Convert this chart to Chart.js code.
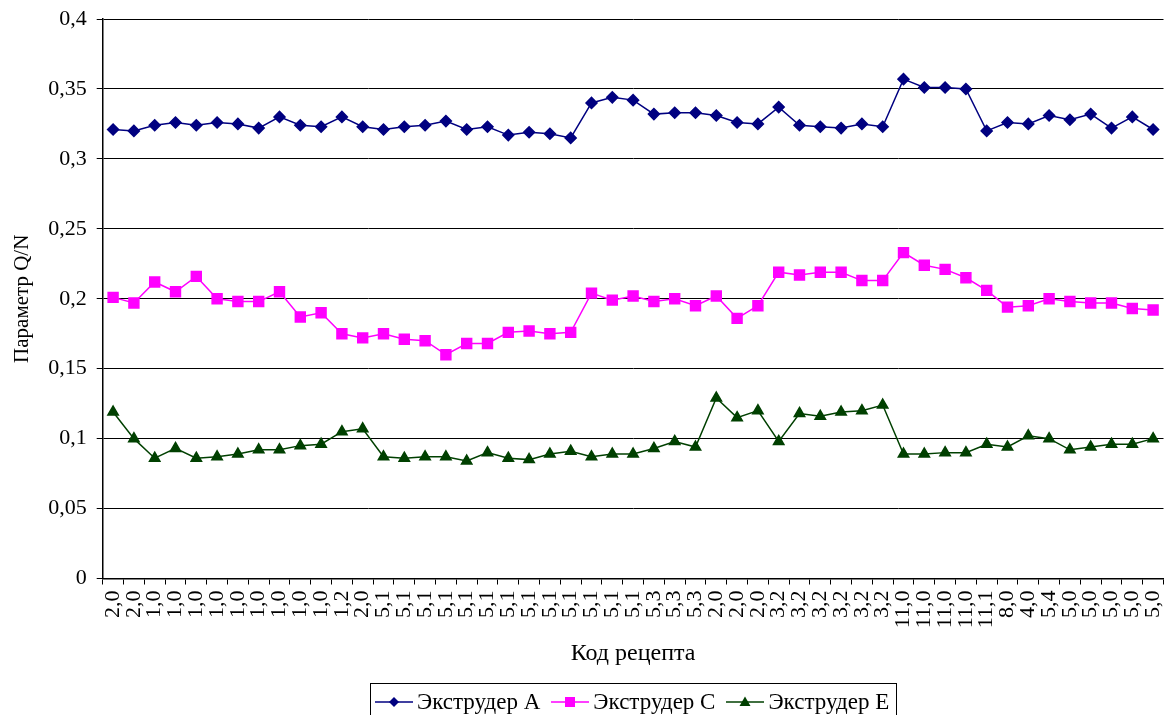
<!DOCTYPE html>
<html>
<head>
<meta charset="utf-8">
<script src="https://cdn.jsdelivr.net/npm/chart.js@4"></script>
<style>
  html, body { margin: 0; padding: 0; background: #fff; overflow: hidden; }
  #wrap { position: relative; width: 1166px; height: 715px; overflow: hidden; }
  #legend {
    position: absolute; left: 370px; top: 683px; width: 527px; height: 38px;
    border: 1px solid #000; box-sizing: border-box;
    display: flex; align-items: center; padding-left: 4px; white-space: nowrap;
    font-family: "Liberation Serif", "Times New Roman", serif; font-size: 23px; color: #000;
  }
  #legend .item { display: flex; align-items: center; margin-right: 11px; flex-shrink: 0; }
  #legend svg { margin-right: 4px; flex-shrink: 0; }
</style>
</head>
<body>
<div id="wrap">
  <!-- a little wider than the page: chart.js keeps some room right of the last rotated label -->
  <canvas id="chart" width="1172" height="715"></canvas>
  <div id="legend"></div>
</div>
<script>
// category codes along the x axis
const recipeCodes = [
  '2,0', '2,0',
  '1,0', '1,0', '1,0', '1,0', '1,0', '1,0', '1,0', '1,0', '1,0',
  '1,2', '2,0',
  '5,1', '5,1', '5,1', '5,1', '5,1', '5,1', '5,1', '5,1', '5,1', '5,1', '5,1', '5,1', '5,1',
  '5,3', '5,3', '5,3',
  '2,0', '2,0', '2,0',
  '3,2', '3,2', '3,2', '3,2', '3,2', '3,2',
  '11,0', '11,0', '11,0', '11,0', '11,1', '8,0', '4,0', '5,4',
  '5,0', '5,0', '5,0', '5,0', '5,0'
];

const seriesNames = ['Экструдер A', 'Экструдер C', 'Экструдер E'];

const extruderA = [
  0.321, 0.320, 0.324, 0.326, 0.324, 0.326, 0.325, 0.322, 0.330, 0.324,
  0.323, 0.330, 0.323, 0.321, 0.323, 0.324, 0.327, 0.321, 0.323, 0.317,
  0.319, 0.318, 0.315, 0.340, 0.344, 0.342, 0.332, 0.333, 0.333, 0.331,
  0.326, 0.325, 0.337, 0.324, 0.323, 0.322, 0.325, 0.323, 0.357, 0.351,
  0.351, 0.350, 0.320, 0.326, 0.325, 0.331, 0.328, 0.332, 0.322, 0.330,
  0.321
];

const extruderC = [
  0.201, 0.197, 0.212, 0.205, 0.216, 0.200, 0.198, 0.198, 0.205, 0.187,
  0.190, 0.175, 0.172, 0.175, 0.171, 0.170, 0.160, 0.168, 0.168, 0.176,
  0.177, 0.175, 0.176, 0.204, 0.199, 0.202, 0.198, 0.200, 0.195, 0.202,
  0.186, 0.195, 0.219, 0.217, 0.219, 0.219, 0.213, 0.213, 0.233, 0.224,
  0.221, 0.215, 0.206, 0.194, 0.195, 0.200, 0.198, 0.197, 0.197, 0.193,
  0.192
];

const extruderE = [
  0.119, 0.100, 0.086, 0.093, 0.086, 0.087, 0.089, 0.092, 0.092, 0.095,
  0.096, 0.105, 0.107, 0.087, 0.086, 0.087, 0.087, 0.084, 0.090, 0.086,
  0.085, 0.089, 0.091, 0.087, 0.089, 0.089, 0.093, 0.098, 0.094, 0.129,
  0.115, 0.120, 0.098, 0.118, 0.116, 0.119, 0.120, 0.124, 0.089, 0.089,
  0.090, 0.090, 0.096, 0.094, 0.102, 0.100, 0.092, 0.094, 0.096, 0.096,
  0.100
];

const yTicks = [0, 0.05, 0.1, 0.15, 0.2, 0.25, 0.3, 0.35, 0.4];

const serif = '"Liberation Serif", "Times New Roman", serif';
const colA = '#000080', colC = '#FF00FF', colE = '#004000';

const fmt = v => String(v).replace('.', ',');

const ctx = document.getElementById('chart');
new Chart(ctx, {
  type: 'line',
  data: {
    labels: recipeCodes,
    datasets: [
      { label: seriesNames[0], data: extruderA, borderColor: colA, backgroundColor: colA,
        borderWidth: 1.5, pointStyle: 'rectRot', pointRadius: 5.5, tension: 0 },
      { label: seriesNames[1], data: extruderC, borderColor: colC, backgroundColor: colC,
        borderWidth: 1.5, pointStyle: 'rect', pointRadius: 7, tension: 0 },
      { label: seriesNames[2], data: extruderE, borderColor: colE, backgroundColor: colE,
        borderWidth: 1.5, pointStyle: 'triangle', pointRadius: 6, tension: 0 }
    ]
  },
  options: {
    responsive: false,
    animation: false,
    layout: { padding: { top: 19, right: 3, bottom: 44, left: 10 } },
    plugins: {
      legend: { display: false },
      tooltip: { enabled: false }
    },
    scales: {
      x: {
        offset: true,
        afterFit: s => { s.paddingLeft = 0; s.paddingRight = 0; },
        grid: { offset: true, drawOnChartArea: false, color: '#000', tickLength: 6, tickColor: '#000' },
        border: { color: '#000', width: 1.5 },
        ticks: {
          autoSkip: false, maxRotation: 90, minRotation: 90, padding: 6,
          color: '#000', font: { family: serif, size: 22 }
        },
        title: { display: true, text: 'Код рецепта', color: '#000',
                 font: { family: serif, size: 24 }, padding: { top: 5, bottom: 3 } }
      },
      y: {
        min: 0, max: 0.4,
        afterBuildTicks: axis => { axis.ticks = yTicks.map(v => ({ value: v })); },
        afterFit: s => { s.paddingTop = 0; s.paddingBottom = 0; },
        grid: { color: '#000', lineWidth: 1, tickLength: 6, tickColor: '#000' },
        border: { color: '#000', width: 1.5 },
        ticks: {
          padding: 10, color: '#000', font: { family: serif, size: 22 },
          callback: v => fmt(v)
        },
        title: { display: true, text: 'Параметр Q/N', color: '#000',
                 font: { family: serif, size: 21 }, padding: { top: 0, bottom: 3 } }
      }
    }
  }
});

// legend in the Excel style: a line segment with the marker in its middle
const markerSvg = {
  rectRot: c => `<polygon points="19,5 24,10 19,15 14,10" fill="${c}"/>`,
  rect: c => `<rect x="14" y="5" width="10" height="10" fill="${c}"/>`,
  triangle: c => `<polygon points="19,4.5 24.5,14 13.5,14" fill="${c}"/>`
};
const legendStyles = [['rectRot', colA], ['rect', colC], ['triangle', colE]];
const legendEl = document.getElementById('legend');
seriesNames.forEach((name, i) => {
  const [shape, c] = legendStyles[i];
  const item = document.createElement('div');
  item.className = 'item';
  item.innerHTML = `<svg width="38" height="20"><line x1="0" y1="10" x2="38" y2="10" stroke="${c}" stroke-width="1.5"/>${markerSvg[shape](c)}</svg><span>${name}</span>`;
  legendEl.appendChild(item);
});
</script>
</body>
</html>
